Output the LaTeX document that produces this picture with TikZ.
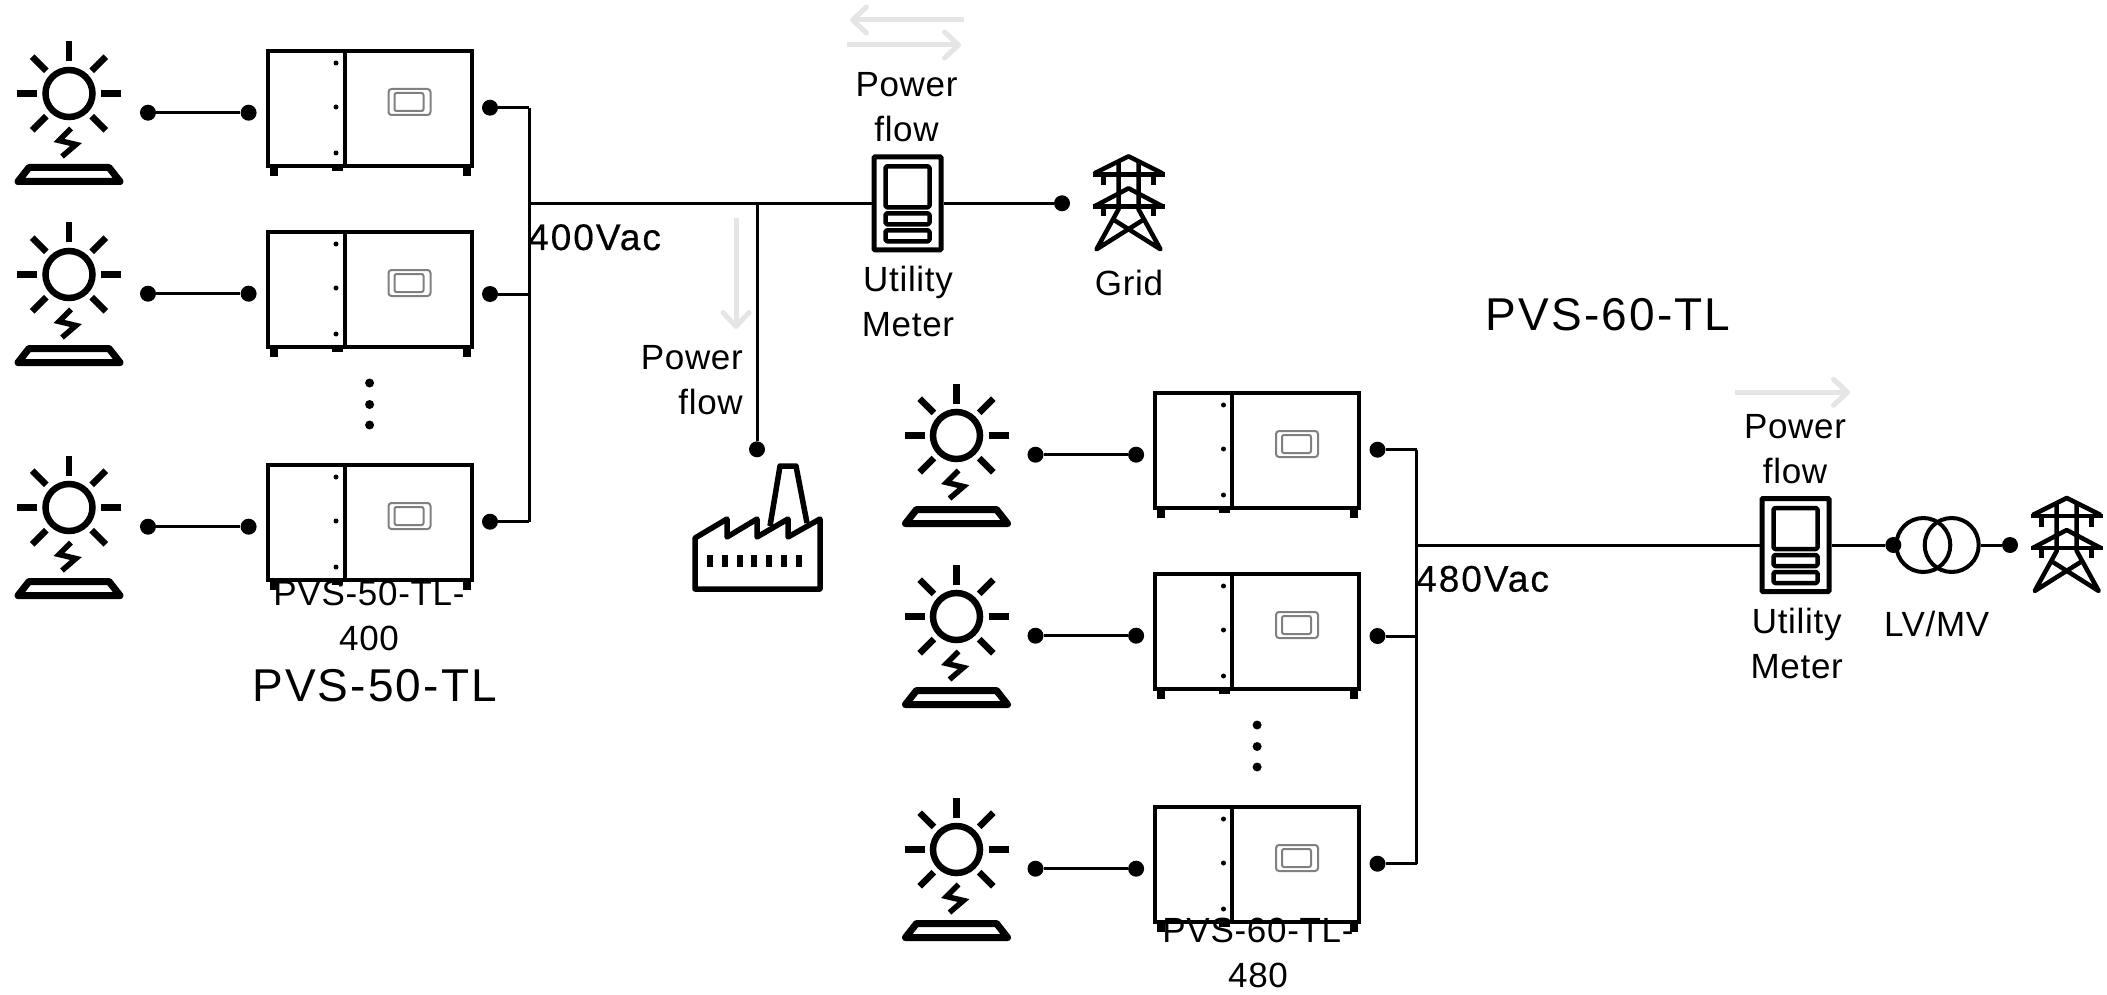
\documentclass[tikz,border=0pt]{standalone}
\usepackage{fontspec}
\setmainfont{Liberation Sans}[LetterSpace=2]
\newfontfamily\vacfont{Liberation Sans}[LetterSpace=5.4,FakeBold=0.5]
\newfontfamily\ttlfont{Liberation Sans}[LetterSpace=4.6]
\usetikzlibrary{arrows.meta,positioning}
\definecolor{flowgray}{gray}{0.9}
\definecolor{dispgray}{gray}{0.5}
\tikzset{
  conn/.style={circle,fill=black,inner sep=0pt,minimum size=16pt},
  wire/.style={line width=3pt},
  icon/.style={line width=4.5pt,line join=round},
  flowarrow/.style={draw=flowgray,line width=5pt,-{Straight Barb[length=14pt,width=26pt,round]}},
  metbox/.style={draw,line width=5pt,rounded corners=1pt,minimum width=67pt,minimum height=93pt,inner sep=0pt},
  lbl/.style={font=\fontsize{35}{45}\selectfont,align=center,anchor=base,inner sep=0pt},
  vac/.style={font=\vacfont\fontsize{37}{45}\selectfont,anchor=base west,inner sep=0pt},
  ttl/.style={font=\ttlfont\fontsize{46}{50}\selectfont,anchor=base,inner sep=0pt},
  sunpanel/.pic={
    \draw[line width=6.5pt] (0,0) circle (23.5);
    \foreach \a in {0,45,135,180,225,270,315} \draw[line width=6.5pt] (\a:32) -- (\a:52);
    \draw[line width=5.5pt] (2,35) -- (-10,47) -- (7,51) -- (-7,63);
    \draw[line width=7pt,line join=round] (-40,74) -- (40,74) -- (51,88) -- (-51,88) -- cycle;
  },
  invbox/.pic={
    \draw[line width=4pt] (0,0) rectangle (204,115);
    \draw[line width=4pt] (77,0) -- (77,115);
    \foreach \y in {12,56,102} \fill (68.5,\y) circle (2.5);
    \fill (2,115) rectangle (10,125);
    \fill (64,115) rectangle (75,120);
    \fill (195,115) rectangle (203,125);
    \draw[dispgray,line width=2pt,rounded corners=3pt] (121,38) rectangle (163,64);
    \draw[dispgray,line width=2pt,rounded corners=2pt] (127,42) rectangle (156,60);
  },
  metface/.pic={
    \draw[icon,rounded corners=1.5pt] (-22,-37) rectangle (22,4);
    \draw[icon,rounded corners=1.5pt] (-22,10) rectangle (22,21);
    \draw[icon,rounded corners=1.5pt] (-22,27) rectangle (22,38);
  },
  pylon/.pic={
    \draw[icon] (-34,-30) -- (0,-47) -- (34,-30);
    \draw[icon] (-36,-29) -- (36,-29);
    \draw[icon] (-34,3) -- (0,-15) -- (34,3);
    \draw[icon] (-36,3) -- (36,3);
    \draw[icon] (-10,-43) -- (-10,6) -- (-32,46) -- (14,17);
    \draw[icon] (10,-43) -- (10,6) -- (32,46) -- (-14,17);
    \foreach \x in {-25,25} {
      \draw[icon] (\x,-29) -- (\x,-18);
      \draw[icon] (\x,3) -- (\x,13);
    }
  },
  plant/.pic={
    \draw[line width=5.5pt,line join=round] (0,51) -- (0,0) -- (32,-19) -- (32,-1) -- (62,-19) -- (62,-1)
      -- (93,-19) -- (93,-1) -- (125,-19) -- (125,51) -- cycle;
    \draw[line width=5.5pt,line join=round] (75,-12) -- (85,-72) -- (101,-72) -- (112,-15);
    \foreach \x in {15,30,45,59,74,89,104} \fill (\x-3,17) rectangle (\x+3,29);
  }
}

\begin{document}
\begin{tikzpicture}[x=1pt,y=-1pt]
  \path[use as bounding box,fill=white] (0,0) rectangle (2107,995);

  \foreach \g/\dx/\dy in {A/0/0,B/887.5/342}{
    \begin{scope}[shift={(\dx,\dy)}]
      \foreach \n/\r/\oy in {1/0/107.7,2/181/113,3/414/107.7}{
        \begin{scope}[shift={(0,\r)}]
          \pic at (69,93.5) {sunpanel};
          \pic at (267.5,51) {invbox};
          \node[conn] (PV\g\n) at (148,112.7) {};
          \node[conn] (IN\g\n) at (248.6,112.7) {};
          \node[conn] (OUT\g\n) at (490,\oy) {};
          \coordinate (BUS\g\n) at (529.3,\oy);
          \draw[wire] (PV\g\n) -- (IN\g\n);
          \draw[wire] (OUT\g\n) -- (BUS\g\n);
        \end{scope}
      }
      \draw[wire] (BUS\g1) -- (BUS\g3);
      \foreach \y in {383,404.5,425} \fill (369.6,\y) circle (4.5);
    \end{scope}
  }

  % left side
  \node[metbox] (M1) at (907.5,203.3) {};
  \pic at (M1) {metface};
  \coordinate (JA) at (529.3,203.3);
  \coordinate (JL) at (757,203.3);
  \node[conn] (GRID) at (1062,203.3) {};
  \node[conn] (LOAD) at (757,449.3) {};
  \draw[wire] (JA) -- (M1);
  \draw[wire] (M1) -- (GRID);
  \draw[wire] (JL) -- (LOAD);
  \pic at (1128.5,203.3) {pylon};
  \pic at (695,538) {plant};

  % right side
  \node[metbox] (M2) at (1795.5,545) {};
  \pic at (M2) {metface};
  \coordinate (JB) at (1416.8,545);
  \node[conn] (TA) at (1893.3,545) {};
  \node[circle,draw,line width=4pt,minimum size=54pt,inner sep=0pt] (TR1) at (1923.3,545) {};
  \node[circle,draw,line width=4pt,minimum size=54pt,inner sep=0pt] (TR2) at (1951.7,545) {};
  \node[conn] (TB) at (2010,545) {};
  \draw[wire] (JB) -- (M2);
  \draw[wire] (M2) -- (TA);
  \draw[wire] (TR2) -- (TB);
  \pic at (2066.7,545) {pylon};

  % power flow arrows
  \coordinate (FA1) at (964,20);
  \coordinate (FA2) at (850,20);
  \coordinate (FB1) at (847,45);
  \coordinate (FB2) at (961,45);
  \coordinate (FC1) at (736,218);
  \coordinate (FC2) at (736,329);
  \coordinate (FD1) at (1735,392.3);
  \coordinate (FD2) at (1850,392.3);
  \draw[flowarrow] (FA1) -- (FA2);
  \draw[flowarrow] (FB1) -- (FB2);
  \draw[flowarrow] (FC1) -- (FC2);
  \draw[flowarrow] (FD1) -- (FD2);

  \node[lbl] (T1) at (906.5,141.7) {Power\\flow};
  \node[lbl] (T2) at (908,336) {Utility\\Meter};
  \node[lbl] (T3) at (1129,295) {Grid};
  \node[lbl,align=right,anchor=base east] (T4) at (743,414) {Power\\flow};
  \node[vac] (T5) at (528,250) {400Vac};
  \node[lbl] (T6) at (369,650) {PVS-50-TL-\\400};
  \node[ttl] (T7) at (374.6,701.7) {PVS-50-TL};
  \node[ttl] (T8) at (1608,330.6) {PVS-60-TL};
  \node[lbl] (T9) at (1795,483.3) {Power\\flow};
  \node[lbl] (T10) at (1796.7,678) {Utility\\Meter};
  \node[lbl] (T11) at (1936.7,636.7) {LV/MV};
  \node[vac] (T12) at (1416,591.6) {480Vac};
  \node[lbl] (T13) at (1258,987) {PVS-60-TL-\\480};
\end{tikzpicture}
\end{document}
